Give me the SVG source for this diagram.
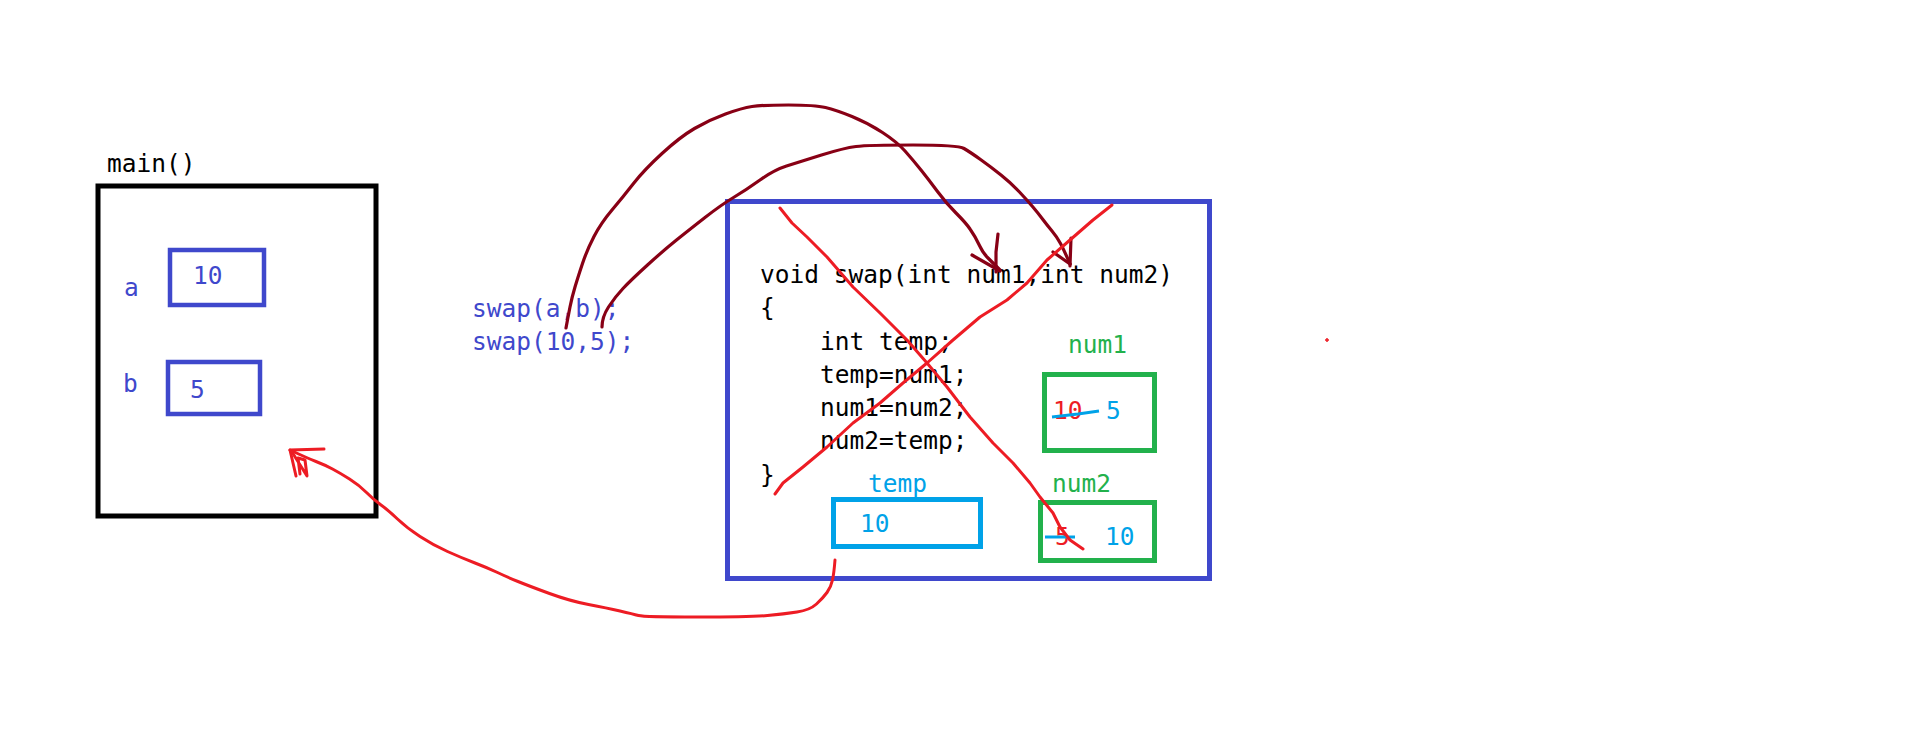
<svg xmlns="http://www.w3.org/2000/svg" width="1914" height="734" viewBox="0 0 1914 734">
<style>
text{font-family:"DejaVu Sans Mono","Liberation Mono",monospace;font-size:24.5px}
.k{fill:#000}
.b{fill:#3F48CC}
.g{fill:#22B14C}
.c{fill:#00A2E8}
.r{fill:#ED1C24}
.box{fill:none}
.red{fill:none;stroke:#ED1C24;stroke-width:3;stroke-linejoin:round;stroke-linecap:round}
.dred{fill:none;stroke:#880015;stroke-width:3.2;stroke-linejoin:round;stroke-linecap:round}
</style>
<rect width="1914" height="734" fill="#fff"/>
<g id="main">
<text class="k" x="107" y="172">main()</text>
<rect class="box" x="98" y="186" width="278" height="330" stroke="#000" stroke-width="5"/>
</g>
<g id="var-a">
<text class="b" x="124" y="296">a</text>
<rect class="box" x="170" y="250" width="94" height="55" stroke="#3F48CC" stroke-width="4.5"/>
<text class="b" x="193" y="284">10</text>
</g>
<g id="var-b">
<text class="b" x="123" y="392">b</text>
<rect class="box" x="168" y="362" width="92" height="52" stroke="#3F48CC" stroke-width="4.5"/>
<text class="b" x="190" y="398">5</text>
</g>
<g id="calls">
<text class="b" x="472" y="317">swap(a,b);</text>
<text class="b" x="472" y="350">swap(10,5);</text>
</g>
<g id="swap">
<rect class="box" x="727.5" y="201.5" width="482" height="377" stroke="#3F48CC" stroke-width="5"/>
<text class="k" x="760" y="283">void swap(int num1,int num2)</text>
<text class="k" x="760" y="316">{</text>
<text class="k" x="820" y="350">int temp;</text>
<text class="k" x="820" y="383">temp=num1;</text>
<text class="k" x="820" y="416">num1=num2;</text>
<text class="k" x="820" y="449">num2=temp;</text>
<text class="k" x="760" y="483">}</text>
</g>
<g id="num1">
<text class="g" x="1068" y="353">num1</text>
<rect class="box" x="1044.5" y="374.5" width="110" height="76" stroke="#22B14C" stroke-width="5"/>
<text class="r" x="1053" y="419">10</text>
<path d="M1052 417 L1078 414 L1099 411" fill="none" stroke="#00A2E8" stroke-width="3"/>
<text class="c" x="1106" y="419">5</text>
</g>
<g id="num2">
<text class="g" x="1052" y="492">num2</text>
<rect class="box" x="1040.5" y="502.5" width="114" height="58" stroke="#22B14C" stroke-width="5"/>
<text class="r" x="1055" y="545">5</text>
<path d="M1045 537 L1075 537" fill="none" stroke="#00A2E8" stroke-width="3"/>
<text class="c" x="1105" y="545">10</text>
</g>
<g id="temp">
<text class="c" x="868" y="492">temp</text>
<rect class="box" x="833.5" y="499.5" width="147" height="47" stroke="#00A2E8" stroke-width="5"/>
<text class="c" x="860" y="532">10</text>
</g>
<g id="connectors">
<path class="dred" d="M566,328 Q568,317 570,307 Q572,297 575,287 Q578,277 582.5,263.5 Q587,250 594,236.5 Q601,223 612,210 Q623,197 633.5,183.5 Q644,170 662,153.5 Q680,137 694.5,128.5 Q709,120 725.5,114 Q742,108 752,106.5 Q762,105 788.5,105 Q815,105 825.5,107.5 Q836,110 852,116.5 Q868,123 882.5,132.5 Q897,142 905,151 Q913,160 921,170 Q929,180 937.5,191.5 Q946,203 956,213 Q966,223 970,229 Q975,236 980,246.5 Q983,253 988,258 Q993,263 1000,270"/>
<polyline class="dred" points="972,255 1000,271"/>
<polyline class="dred" points="998,234 996,252 996,272"/>
<path class="dred" d="M602,327 Q602,317 608.5,307 Q615,297 623,288.5 Q631,280 647.5,265 Q664,250 676.5,240 Q689,230 705,217.5 Q721,205 733.5,197.5 Q746,190 760,180 Q774,170 786.5,166 Q799,162 821.5,155 Q844,148 856,146.5 Q868,145 913,145 Q958,145 964,148.5 Q970,152 980.5,159.5 Q991,167 1001,175 Q1011,183 1019,191.5 Q1027,200 1032.5,206.5 Q1038,213 1042.5,219 Q1047,225 1052,231 Q1057,237 1060.5,243.5 Q1064,250 1070,264"/>
<polyline class="dred" points="1053,252 1070,264"/>
<polyline class="dred" points="1071,238 1070,266"/>
<polyline class="red" points="780,208 792,223 807,237 827,257 853,287 880,313 907,340 927,363 947,387 970,417 993,443 1013,463 1030,483 1040,497 1053,513 1060,527 1070,540 1083,549"/>
<polyline class="red" points="1112,205 1093,220 1070,240 1047,260 1027,283 1007,300 980,317 953,340 927,363 903,383 880,403 853,423 827,447 803,467 783,483 775,494"/>
<path class="red" d="M835,560 Q834,573 832.5,580 Q831,587 827,592.5 Q823,598 816.5,604 Q810,610 797,612 Q784,614 767.5,615.5 Q751,617 697.5,617 Q644,617 638.5,615.5 Q633,614 620,611 Q607,608 588.5,604.5 Q570,601 549.5,593.5 Q529,586 518,581.5 Q507,577 497.5,572.5 Q488,568 475,563 Q462,558 447.5,551.5 Q433,545 420,536.5 Q407,528 397.5,519 Q388,510 381,505 Q374,500 366.5,492.5 Q359,485 349.5,479 Q340,473 332.5,469 Q325,465 316,461.5 Q307,458 290,450"/>
<polyline class="red" points="324,449 290,450 296,476"/>
<polyline class="red" points="292,452 307,476 305,460 298,458 300,474"/>
<path d="M1325 340 H1329 M1327 338 V342" stroke="#ED1C24" stroke-width="1.5"/>
</g>
</svg>
